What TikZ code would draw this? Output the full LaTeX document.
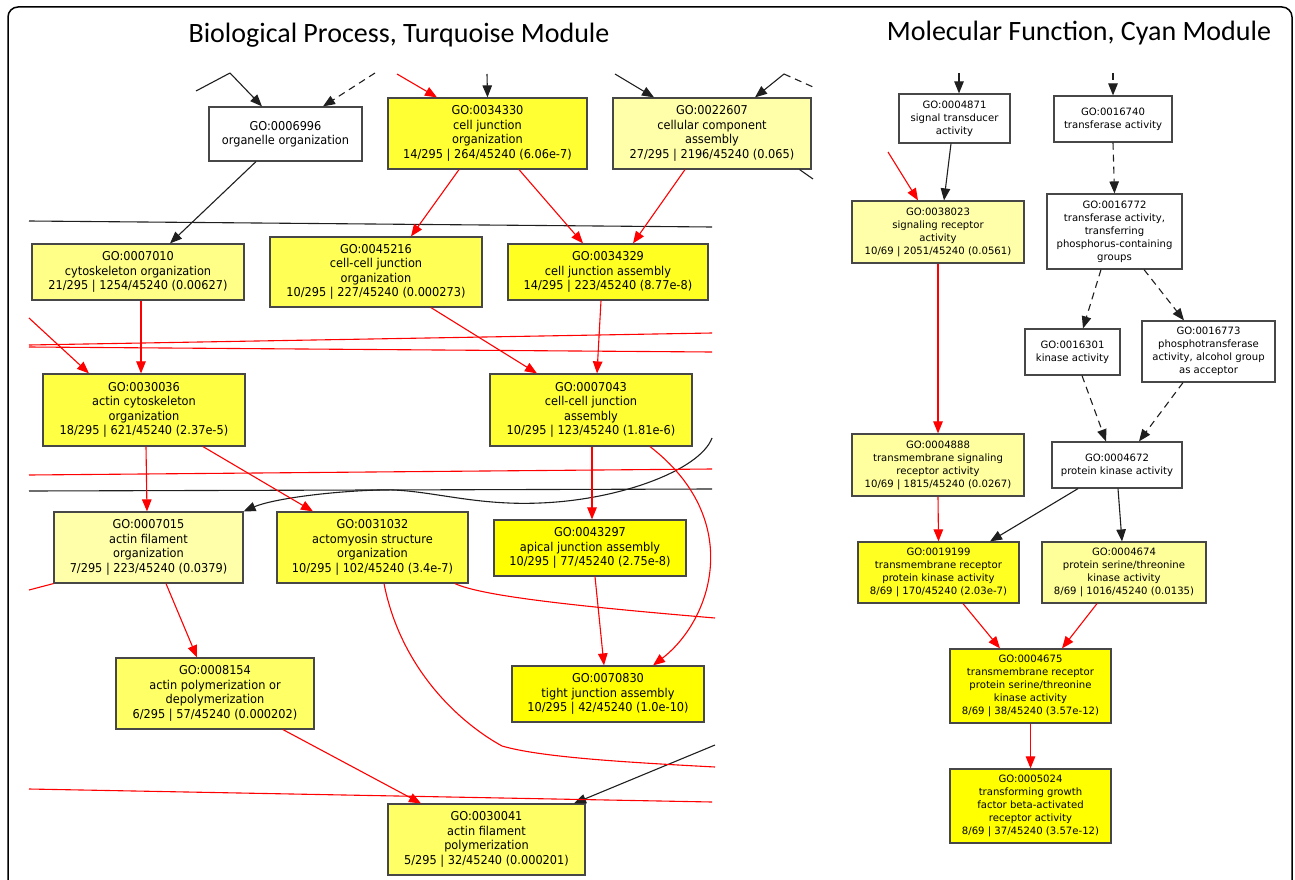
\documentclass[tikz,border=0pt]{standalone}
\usepackage{fontspec}
\setmainfont{DejaVu Sans}
\newfontfamily\bpfont[FakeStretch=0.93]{DejaVu Sans}
\newfontfamily\titlefont{Carlito}
\usetikzlibrary{arrows.meta}

\definecolor{goA}{HTML}{FFFF00}
\definecolor{goB}{HTML}{FFFF22}
\definecolor{goC}{HTML}{FFFF33}
\definecolor{goD}{HTML}{FFFF44}
\definecolor{goE}{HTML}{FFFF55}
\definecolor{goF}{HTML}{FFFF66}
\definecolor{goG}{HTML}{FFFF88}
\definecolor{goH}{HTML}{FFFF99}
\definecolor{goI}{HTML}{FFFFA0}
\definecolor{goJ}{HTML}{FFFFAA}

\tikzset{
    gobox/.style={draw=black!72, line width=1.2pt, align=center, inner sep=0pt},
    bpbox/.style={gobox, font=\bpfont\fontsize{12.2}{14.5}\selectfont},
    mfbox/.style={gobox, font=\fontsize{10.1}{13}\selectfont},
    heading/.style={font=\titlefont\fontsize{28}{32}\selectfont},
    isa/.style={black!88, line width=1.1pt, -{Triangle[length=12pt,width=9.5pt]}},
    redisa/.style={isa, red},
    partof/.style={isa, dash pattern=on 7pt off 5pt},
    plainline/.style={black!88, line width=1.1pt},
    redline/.style={red, line width=1.1pt}
}

\begin{document}
\begin{tikzpicture}[x=1pt, y=-1pt]
    \useasboundingbox (0,0) rectangle (1295,880);
    \draw[line width=1.5pt, rounded corners=10pt] (8,7) rectangle (1292,900);

    \node[heading] (bptitle) at (399,35) {Biological Process, Turquoise Module};
    \node[heading] (mftitle) at (1079,33) {Molecular Function, Cyan Module};

    % Biological process graph
    \node[bpbox, fill=white, minimum width=153, minimum height=54] (n6996) at (285.5,134) {GO:0006996\\organelle organization};
    \node[bpbox, fill=goC, minimum width=199, minimum height=71] (n34330) at (487.5,133.5) {GO:0034330\\cell junction\\organization\\14/295 | 264/45240 (6.06e-7)};
    \node[bpbox, fill=goJ, minimum width=198, minimum height=71] (n22607) at (712,133.5) {GO:0022607\\cellular component\\assembly\\27/295 | 2196/45240 (0.065)};
    \node[bpbox, fill=goG, minimum width=212, minimum height=56] (n7010) at (138,272) {GO:0007010\\cytoskeleton organization\\21/295 | 1254/45240 (0.00627)};
    \node[bpbox, fill=goE, minimum width=212, minimum height=70] (n45216) at (376,272) {GO:0045216\\cell-cell junction\\organization\\10/295 | 227/45240 (0.000273)};
    \node[bpbox, fill=goB, minimum width=200, minimum height=56] (n34329) at (608,272) {GO:0034329\\cell junction assembly\\14/295 | 223/45240 (8.77e-8)};
    \node[bpbox, fill=goD, minimum width=202, minimum height=72] (n30036) at (144,410) {GO:0030036\\actin cytoskeleton\\organization\\18/295 | 621/45240 (2.37e-5)};
    \node[bpbox, fill=goC, minimum width=202, minimum height=72] (n7043) at (591,410) {GO:0007043\\cell-cell junction\\assembly\\10/295 | 123/45240 (1.81e-6)};
    \node[bpbox, fill=goJ, minimum width=189, minimum height=71] (n7015) at (148.5,547.5) {GO:0007015\\actin filament\\organization\\7/295 | 223/45240 (0.0379)};
    \node[bpbox, fill=goD, minimum width=191, minimum height=71] (n31032) at (372.5,547.5) {GO:0031032\\actomyosin structure\\organization\\10/295 | 102/45240 (3.4e-7)};
    \node[bpbox, fill=goA, minimum width=192, minimum height=56] (n43297) at (590,548) {GO:0043297\\apical junction assembly\\10/295 | 77/45240 (2.75e-8)};
    \node[bpbox, fill=goF, minimum width=198, minimum height=71] (n8154) at (215,693.5) {GO:0008154\\actin polymerization or\\depolymerization\\6/295 | 57/45240 (0.000202)};
    \node[bpbox, fill=goA, minimum width=192, minimum height=56] (n70830) at (608,694) {GO:0070830\\tight junction assembly\\10/295 | 42/45240 (1.0e-10)};
    \node[bpbox, fill=goF, minimum width=197, minimum height=71] (n30041) at (486.5,839.5) {GO:0030041\\actin filament\\polymerization\\5/295 | 32/45240 (0.000201)};

    % edges coming from outside the crop
    \coordinate (cut1) at (196,91);
    \coordinate (cut2) at (230,73);
    \coordinate (cut3) at (375,73);
    \coordinate (cut4) at (397,74);
    \coordinate (cut5) at (487,74);
    \coordinate (cut6) at (615,74);
    \coordinate (cut7) at (784,74);
    \coordinate (cut8) at (813,87);
    \coordinate (cut9) at (813,179);
    \coordinate (cut10) at (29,318);
    \coordinate (cut11) at (29,590);
    \coordinate (cut12) at (712,438);
    \coordinate (cut13) at (715,745);
    \coordinate (cut14) at (715,618);
    \coordinate (cut15) at (715,767);
    \draw[plainline] (cut1) -- (cut2);
    \draw[isa] (cut2) -- ([xshift=-23.5]n6996.north);
    \draw[partof] (cut3) -- ([xshift=37.5]n6996.north);
    \draw[redisa] (cut4) -- ([xshift=-50.5]n34330.north);
    \draw[isa] (cut5) -- (n34330.north);
    \draw[isa] (cut6) -- ([xshift=-58]n22607.north);
    \draw[isa] (cut7) -- ([xshift=43]n22607.north);
    \draw[plainline, dash pattern=on 7pt off 5pt] (cut7) -- (cut8);
    \draw[plainline] ([xshift=-12]n22607.south east) -- (cut9);
    \draw[redisa] (cut10) -- ([xshift=-55]n30036.north);
    \draw[redline] (cut11) -- (n7015.south west);
    \draw[isa] (cut12) .. controls (700,470) and (620,500) .. (540,503)
        .. controls (470,506) and (425,488) .. (378,490)
        .. controls (320,492) and (270,500) .. (n7015.north east);
    \draw[isa] (cut13) -- ([xshift=87.5]n30041.north);

    % lines running across the crop
    \foreach \i/\ya/\yb/\c in {1/221/227/plainline, 2/345/333/redline, 3/347/352/redline,
                               4/475/469/redline, 5/491/489/plainline, 6/789/802/redline} {
        \coordinate (left\i) at (29,\ya);
        \coordinate (right\i) at (712,\yb);
        \draw[\c] (left\i) -- (right\i);
    }

    \draw[isa] ([xshift=-29.5]n6996.south) -- ([xshift=32]n7010.north);
    \draw[redisa] ([xshift=-28.5]n34330.south) -- ([xshift=35]n45216.north);
    \draw[redisa] ([xshift=31.5]n34330.south) -- ([xshift=-25]n34329.north);
    \draw[redisa] ([xshift=-27]n22607.south) -- ([xshift=25]n34329.north);
    \draw[redisa] ([xshift=3]n7010.south) -- ([xshift=-3]n30036.north);
    \draw[redisa] ([xshift=55]n45216.south) -- ([xshift=-54]n7043.north);
    \draw[redisa] ([xshift=-7]n34329.south) -- ([xshift=6]n7043.north);
    \draw[redisa] ([xshift=2]n30036.south) -- ([xshift=-1.5]n7015.north);
    \draw[redisa] ([xshift=59]n30036.south) -- ([xshift=-59.5]n31032.north);
    \draw[redisa] ([xshift=1]n7043.south) -- ([xshift=2]n43297.north);
    \draw[redisa] ([xshift=59]n7043.south) .. controls (745,520) and (712,620) .. ([xshift=45]n70830.north);
    \draw[redisa] ([xshift=5]n43297.south) -- ([xshift=-4]n70830.north);
    \draw[redisa] ([xshift=17.5]n7015.south) -- ([xshift=-18]n8154.north);
    \draw[redisa] ([xshift=68]n8154.south) -- ([xshift=-65.5]n30041.north);
    \draw[redline] ([xshift=11.5]n31032.south) .. controls (400,665) and (455,720) .. (502,746)
        .. controls (540,757) and (620,762) .. (cut15);
    \draw[redline] ([xshift=82.5]n31032.south) .. controls (480,595) and (560,605) .. (cut14);

    % Molecular function graph
    \node[mfbox, fill=white, minimum width=111, minimum height=49] (m4871) at (954.5,118.5) {GO:0004871\\signal transducer\\activity};
    \node[mfbox, fill=white, minimum width=118, minimum height=46] (m16740) at (1113,119) {GO:0016740\\transferase activity};
    \node[mfbox, fill=goJ, minimum width=172, minimum height=62] (m38023) at (938,232) {GO:0038023\\signaling receptor\\activity\\10/69 | 2051/45240 (0.0561)};
    \node[mfbox, fill=white, minimum width=135, minimum height=75] (m16772) at (1114.5,231.5) {GO:0016772\\transferase activity,\\transferring\\phosphorus-containing\\groups};
    \node[mfbox, fill=white, minimum width=95, minimum height=46] (m16301) at (1072.5,352) {GO:0016301\\kinase activity};
    \node[mfbox, fill=white, minimum width=133, minimum height=61] (m16773) at (1208.5,351.5) {GO:0016773\\phosphotransferase\\activity, alcohol group\\as acceptor};
    \node[mfbox, fill=goI, minimum width=172, minimum height=62] (m4888) at (938,465) {GO:0004888\\transmembrane signaling\\receptor activity\\10/69 | 1815/45240 (0.0267)};
    \node[mfbox, fill=white, minimum width=130, minimum height=46] (m4672) at (1117,465) {GO:0004672\\protein kinase activity};
    \node[mfbox, fill=goB, minimum width=161, minimum height=61] (m19199) at (938.5,572.5) {GO:0019199\\transmembrane receptor\\protein kinase activity\\8/69 | 170/45240 (2.03e-7)};
    \node[mfbox, fill=goH, minimum width=164, minimum height=61] (m4674) at (1124,572.5) {GO:0004674\\protein serine/threonine\\kinase activity\\8/69 | 1016/45240 (0.0135)};
    \node[mfbox, fill=goA, minimum width=161, minimum height=74] (m4675) at (1030.5,686) {GO:0004675\\transmembrane receptor\\protein serine/threonine\\kinase activity\\8/69 | 38/45240 (3.57e-12)};
    \node[mfbox, fill=goA, minimum width=161, minimum height=74] (m5024) at (1030.5,806) {GO:0005024\\transforming growth\\factor beta-activated\\receptor activity\\8/69 | 37/45240 (3.57e-12)};

    \coordinate (mcut1) at (959,73);
    \coordinate (mcut2) at (1113,73);
    \coordinate (mcut3) at (888,152);
    \draw[isa] (mcut1) -- ([xshift=4.5]m4871.north);
    \draw[partof] (mcut2) -- (m16740.north);
    \draw[redisa] (mcut3) -- ([xshift=-20]m38023.north);
    \draw[isa] ([xshift=-3.5]m4871.south) -- ([xshift=6]m38023.north);
    \draw[partof] (m16740.south) -- (m16772.north);
    \draw[partof] ([xshift=-13.5]m16772.south) -- ([xshift=10.5]m16301.north);
    \draw[partof] ([xshift=29.5]m16772.south) -- ([xshift=-24.5]m16773.north);
    \draw[redisa] (m38023.south) -- (m4888.north);
    \draw[partof] ([xshift=9.5]m16301.south) -- ([xshift=-11]m4672.north);
    \draw[partof] ([xshift=-25.5]m16773.south) -- ([xshift=22]m4672.north);
    \draw[redisa] (m4888.south) -- (m19199.north);
    \draw[isa] ([xshift=-39]m4672.south) -- ([xshift=51.5]m19199.north);
    \draw[isa] ([xshift=1]m4672.south) -- ([xshift=-2]m4674.north);
    \draw[redisa] ([xshift=24.5]m19199.south) -- ([xshift=-30.5]m4675.north);
    \draw[redisa] ([xshift=-27]m4674.south) -- ([xshift=31.5]m4675.north);
    \draw[redisa] (m4675.south) -- (m5024.north);

\end{tikzpicture}
\end{document}
